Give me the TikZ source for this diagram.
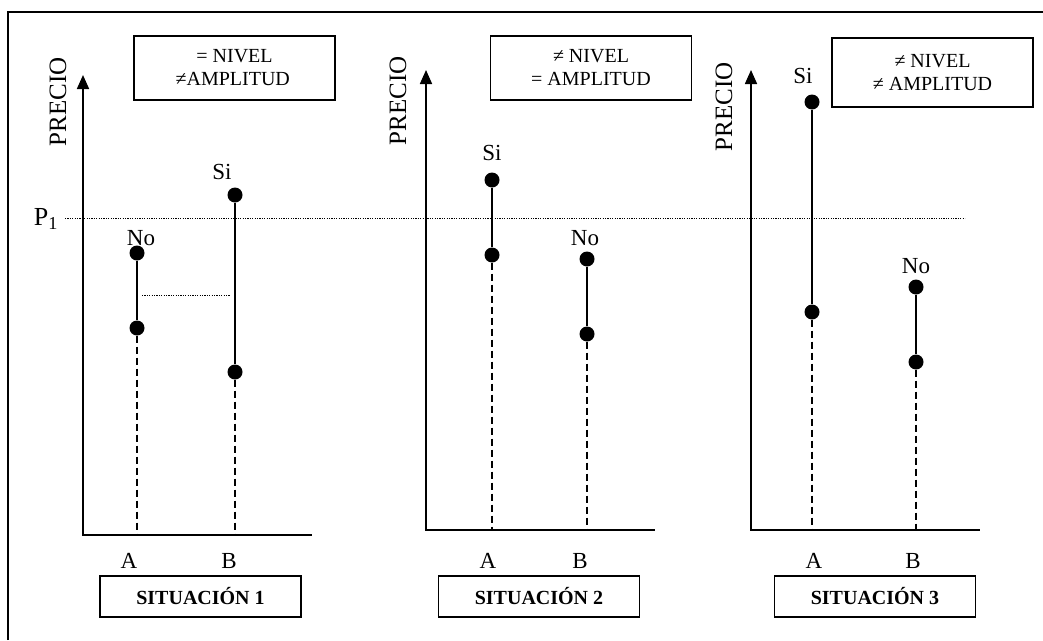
\documentclass[tikz,border=0pt]{standalone}
\usepackage{fontspec}
\setmainfont{Liberation Serif}
\usetikzlibrary{arrows.meta}

\begin{document}
\begin{tikzpicture}[x=1pt, y=-1pt, font=\fontsize{23}{26}\selectfont,
		punto/.style={circle, fill=black, inner sep=0pt, minimum size=15pt},
		caja/.style={draw, line width=1.4pt, minimum width=201pt, minimum height=64pt, align=center, font=\fontsize{20}{23}\selectfont},
		situacion/.style={draw, line width=1.4pt, minimum width=201pt, minimum height=41pt, font=\fontsize{20}{22}\selectfont\bfseries},
		eje/.style={line width=1.7pt},
		rango/.style={line width=1.4pt},
		guia/.style={line width=1.4pt, dash pattern=on 7pt off 4pt},
		nivel/.style={line width=0.9pt, dash pattern=on 1.2pt off 1.2pt}]
		\useasboundingbox (0,0) rectangle (1043,640);

		% marco
		\coordinate (m1) at (8,640);
		\coordinate (m2) at (8,12);
		\coordinate (m3) at (1043,12);
		\draw[line width=1.5pt] (m1) -- (m2) -- (m3);

		% nivel P1
		\node (P1) at (46,219) {\fontsize{26}{28}\selectfont P\textsubscript{1}};
		\coordinate (p1ini) at (65,218);
		\coordinate (p1fin) at (965,218);
		\path (p1ini) edge[nivel] (p1fin);

		% situacion 1
		\coordinate (o1) at (83,535);
		\coordinate (tip1) at (83,75);
		\coordinate (fin1) at (312,535);
		\draw[eje, {Triangle[length=14pt, width=12pt]}-] (tip1) -- (o1) -- (fin1);
		\node[rotate=90, font=\fontsize{25}{28}\selectfont] (precio1) at (58,102) {PRECIO};
		\node[caja] (caja1) at (234.5,68) {= NIVEL\\$\!$≠AMPLITUD};

		\node[punto] (a1s) at (137,253) {};
		\node[punto] (a1i) at (137,328) {};
		\node[punto] (b1s) at (235,195) {};
		\node[punto] (b1i) at (235,372) {};
		\coordinate (a1base) at (137,535);
		\coordinate (b1base) at (235,535);
		\node (no1) at (141,238) {No};
		\node (si1) at (222,172) {Si};
		\coordinate (d1ini) at (142,295);
		\coordinate (d1fin) at (230,295);

		\path (a1s) edge[rango] (a1i);
		\path (b1s) edge[rango] (b1i);
		\path (a1i) edge[guia] (a1base);
		\path (b1i) edge[guia] (b1base);
		\path (d1ini) edge[nivel] (d1fin);

		\node (A1) at (129,561) {A};
		\node (B1) at (229,561) {B};
		\node[situacion] (sit1) at (200.5,596.5) {SITUACIÓN 1};

		% situacion 2
		\coordinate (o2) at (426,530);
		\coordinate (tip2) at (426,70);
		\coordinate (fin2) at (655,530);
		\draw[eje, {Triangle[length=14pt, width=12pt]}-] (tip2) -- (o2) -- (fin2);
		\node[rotate=90, font=\fontsize{25}{28}\selectfont] (precio2) at (398,101) {PRECIO};
		\node[caja] (caja2) at (591,68) {≠ NIVEL\\= AMPLITUD};

		\node[punto] (a2s) at (492,180) {};
		\node[punto] (a2i) at (492,255) {};
		\node[punto] (b2s) at (587,259) {};
		\node[punto] (b2i) at (587,334) {};
		\coordinate (a2base) at (492,530);
		\coordinate (b2base) at (587,530);
		\node (si2) at (492,153) {Si};
		\node (no2) at (585,238) {No};

		\path (a2s) edge[rango] (a2i);
		\path (b2s) edge[rango] (b2i);
		\path (a2i) edge[guia] (a2base);
		\path (b2i) edge[guia] (b2base);

		\node (A2) at (488,561) {A};
		\node (B2) at (580,561) {B};
		\node[situacion] (sit2) at (539,596.5) {SITUACIÓN 2};

		% situacion 3
		\coordinate (o3) at (751,530);
		\coordinate (tip3) at (751,70);
		\coordinate (fin3) at (980,530);
		\draw[eje, {Triangle[length=14pt, width=12pt]}-] (tip3) -- (o3) -- (fin3);
		\node[rotate=90, font=\fontsize{25}{28}\selectfont] (precio3) at (724,107) {PRECIO};
		\node[caja, minimum height=69pt] (caja3) at (932.5,72.5) {≠ NIVEL\\≠ AMPLITUD};

		\node[punto] (a3s) at (812,102) {};
		\node[punto] (a3i) at (812,312) {};
		\node[punto] (b3s) at (916,287) {};
		\node[punto] (b3i) at (916,362) {};
		\coordinate (a3base) at (812,530);
		\coordinate (b3base) at (916,530);
		\node (si3) at (803,76) {Si};
		\node (no3) at (916,266) {No};

		\path (a3s) edge[rango] (a3i);
		\path (b3s) edge[rango] (b3i);
		\path (a3i) edge[guia] (a3base);
		\path (b3i) edge[guia] (b3base);

		\node (A3) at (814,561) {A};
		\node (B3) at (913,561) {B};
		\node[situacion] (sit3) at (875,596.5) {SITUACIÓN 3};
	\end{tikzpicture}
\end{document}
